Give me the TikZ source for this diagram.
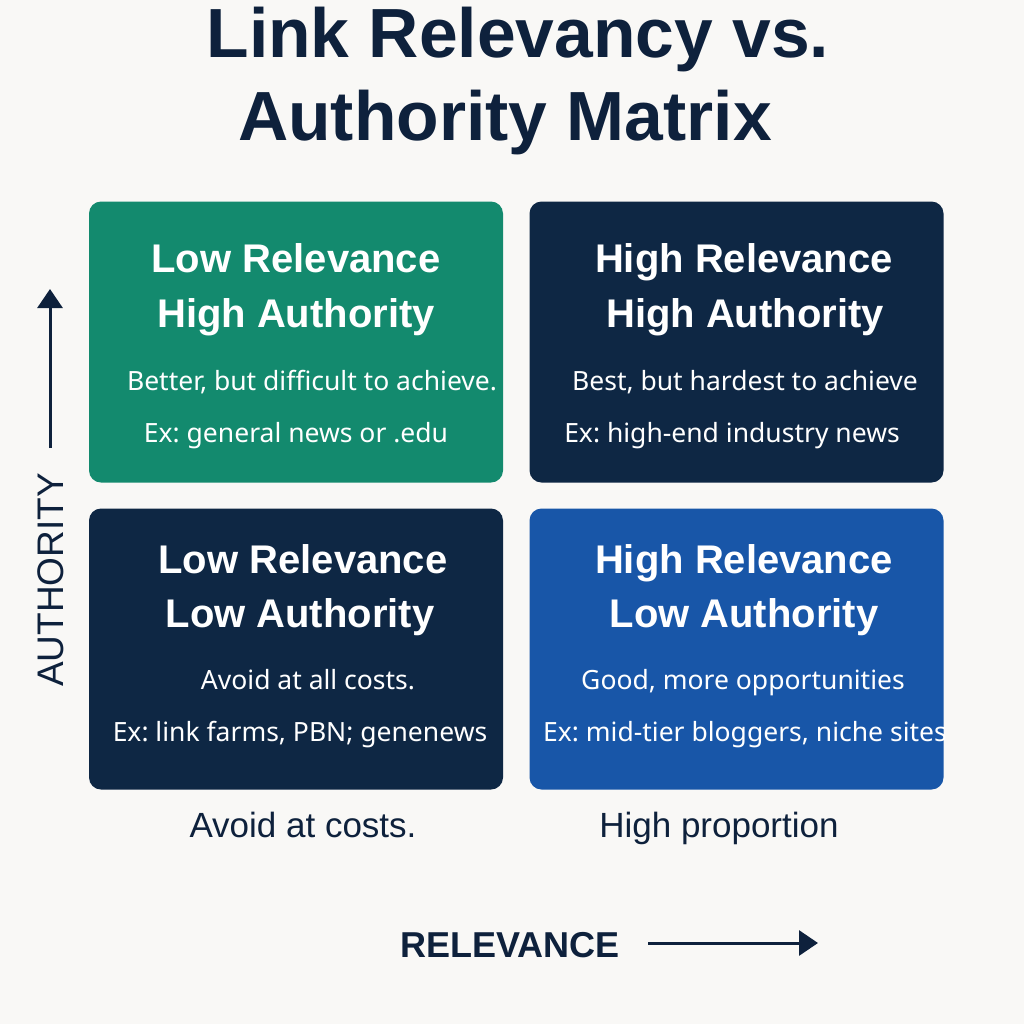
\documentclass[tikz,border=0pt]{standalone}
\usepackage{fontspec}
\setmainfont{Liberation Sans}
\newfontfamily\cardfont{Noto Sans}
\frenchspacing
\usetikzlibrary{arrows.meta,positioning}
\definecolor{paper}{RGB}{249,248,246}
\definecolor{ink}{RGB}{14,33,60}
\definecolor{cardgreen}{RGB}{19,138,110}
\definecolor{cardnavy}{RGB}{14,39,68}
\definecolor{cardblue}{RGB}{24,86,168}
\tikzset{
  card/.style={rounded corners=6pt, minimum width=207pt, minimum height=140.5pt, inner sep=0pt},
  cardhead/.style={anchor=base, text=white, font=\bfseries\fontsize{20}{24}\selectfont},
  cardnote/.style={anchor=base, text=white, font=\cardfont\frenchspacing\fontsize{13.25}{16}\selectfont},
  footnote/.style={anchor=base, text=ink, font=\fontsize{17.5}{21}\selectfont},
  axisarrow/.style={draw=ink, line width=1.5pt, -{Triangle[length=9.5pt,width=12.5pt]}},
}

\begin{document}
\begin{tikzpicture}[x=0.5pt,y=-0.5pt]

\useasboundingbox[fill=paper] (0,0) rectangle (1024,1024);

% title
\node[anchor=base, text=ink, font=\bfseries\fontsize{34.8}{40}\selectfont] (title1) at (518,57) {Link Relevancy vs.};
\node[anchor=base, text=ink, font=\bfseries\fontsize{34.8}{40}\selectfont] (title2) at (505,140) {Authority Matrix};

% quadrants
\node[card, fill=cardgreen] (lowhigh) at (296,342) {};
\node[card, fill=cardnavy] (highhigh) at (736.5,342) {};
\node[card, fill=cardnavy] (lowlow) at (296,649) {};
\node[card, fill=cardblue] (highlow) at (736.5,649) {};

% low relevance, high authority
\node[cardhead] (lhhead1) at (296,272) {Low Relevance};
\node[cardhead] (lhhead2) at (296,327) {High Authority};
\node[cardnote] (lhnote) at (312,390) {Better, but difficult to achieve.};
\node[cardnote] (lhex) at (296,442) {Ex: general news or .edu};

% high relevance, high authority
\node[cardhead] (hhhead1) at (744,272) {High Relevance};
\node[cardhead] (hhhead2) at (745,327) {High Authority};
\node[cardnote] (hhnote) at (745,390) {Best, but hardest to achieve};
\node[cardnote] (hhex) at (732,442) {Ex: high-end industry news};

% low relevance, low authority
\node[cardhead] (llhead1) at (303,573) {Low Relevance};
\node[cardhead] (llhead2) at (300,627) {Low Authority};
\node[cardnote] (llnote) at (308,689) {Avoid at all costs.};
\node[cardnote] (llex) at (300,741) {Ex: link farms, PBN; genenews};

% high relevance, low authority
\node[cardhead] (hlhead1) at (744,573) {High Relevance};
\node[cardhead] (hlhead2) at (744,627) {Low Authority};
\node[cardnote] (hlnote) at (743,689) {Good, more opportunities};
\node[cardnote] (hlex) at (745,741) {Ex: mid-tier bloggers, niche sites};

% below the cards
\node[footnote] (lowfoot) at (303,837) {Avoid at costs.};
\node[footnote] (highfoot) at (719,837) {High proportion};

% axes
\node[anchor=base, rotate=90, text=ink, font=\fontsize{18.5}{22}\selectfont] (authority) at (63,580) {AUTHORITY};
\coordinate (authtail) at (50,448);
\coordinate (authtip) at (50,289);
\draw[axisarrow] (authtail) -- (authtip);

\node[anchor=base, text=ink, font=\bfseries\fontsize{18}{22}\selectfont] (relevance) at (510,957) {RELEVANCE};
\coordinate (reltail) at (648,943);
\coordinate (reltip) at (818,943);
\draw[axisarrow] (reltail) -- (reltip);

\end{tikzpicture}
\end{document}
